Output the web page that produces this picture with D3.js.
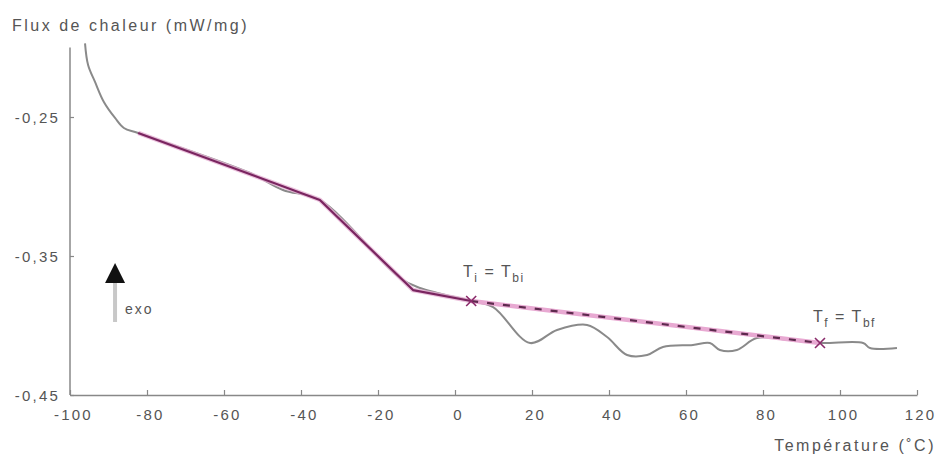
<!DOCTYPE html>
<html><head><meta charset="utf-8">
<script src="https://cdn.jsdelivr.net/npm/d3@7"></script>
<style>
body{margin:0;background:#fff;}
svg text{font-family:"Liberation Sans",Arial,Helvetica,sans-serif;fill:#555;}
</style></head>
<body><svg id="c" width="938" height="457"></svg>
<script>
// Measured DSC curve (temperature °C, heat flux mW/mg)
const temps = [-96.1,-95.3,-93.5,-91.2,-88.3,-86.0,-82.3,-53.2,-44.7,-35.1,-14.3,-9.1,4.2,9.9,19.5,26.5,34.3,39.5,44.7,49.9,54.0,61.8,66.2,68.8,73.2,78.4,86.9,94.8,106.0,107.8,114.8];
const flux  = [-0.197,-0.2126,-0.2248,-0.2392,-0.2507,-0.2579,-0.2615,-0.2903,-0.3025,-0.3097,-0.3658,-0.373,-0.3824,-0.3867,-0.4126,-0.4032,-0.3996,-0.4083,-0.4212,-0.4212,-0.4155,-0.414,-0.4126,-0.4176,-0.4176,-0.409,-0.4104,-0.4126,-0.4126,-0.4162,-0.4162];
// Fitted baseline (solid) up to Ti
const baseT = [-82.3,-35.1,-10.9,4.2];
const baseF = [-0.2615,-0.3097,-0.3745,-0.3824];
// Interpolated baseline Ti -> Tf (dashed)
const interpT = [4.2,94.8];
const interpF = [-0.3824,-0.4126];
const xTicks = [-100,-80,-60,-40,-20,0,20,40,60,80,100,120];
const yTicks = [-0.25,-0.35,-0.45];

const svg = d3.select("#c");
const x = d3.scaleLinear().domain([-100,120]).range([70,917]);
const y = d3.scaleLinear().domain([-0.45,-0.2]).range([395,47.5]);

const fmt = d => d3.format(".2f")(d).replace(".",",").replace("−","-");

// axes
const gx = svg.append("g").attr("transform",`translate(0,${y(-0.45)})`)
  .call(d3.axisBottom(x).tickValues(xTicks).tickSizeInner(-5).tickSizeOuter(0).tickPadding(14).tickFormat(d=>String(d)));
const gy = svg.append("g").attr("transform",`translate(${x(-100)},0)`)
  .call(d3.axisLeft(y).tickValues(yTicks).tickSizeInner(-4).tickSizeOuter(0).tickPadding(10).tickFormat(fmt));
[gx,gy].forEach(g=>{
  g.select(".domain").attr("stroke","#888").attr("stroke-width",1.5);
  g.selectAll(".tick line").attr("stroke","#888").attr("stroke-width",1.2);
  g.selectAll(".tick text").attr("fill","#555").style("font-size","15px").style("letter-spacing","2.2px")
   .style("font-family",'"Liberation Sans",Arial,sans-serif');
});
gx.selectAll(".tick text").attr("dx","3");
gy.selectAll(".tick text").attr("dy","0.35em");
gy.select(".domain").attr("d",`M0,${y(-0.2)}V${y(-0.45)}`);

// axis titles
svg.append("text").attr("x",12).attr("y",31).style("font-size","16px").style("letter-spacing","2.5px")
  .text("Flux de chaleur (mW/mg)");
svg.append("text").attr("x",936).attr("y",451).attr("text-anchor","end").style("font-size","16px").style("letter-spacing","2.5px")
  .text("Température (˚C)");

// gray measured curve
const lin = d3.line().x(d=>x(d[0])).y(d=>y(d[1]));
const smooth = d3.line().x(d=>x(d[0])).y(d=>y(d[1])).curve(d3.curveCatmullRom.alpha(0.5));
svg.append("path").datum(temps.map((t,i)=>[t,flux[i]]))
  .attr("d",smooth).attr("fill","none").attr("stroke","#8a8a8a").attr("stroke-width",2).attr("stroke-linejoin","round");

// solid baseline
svg.append("path").datum(baseT.map((t,i)=>[t,baseF[i]]))
  .attr("d",lin).attr("fill","none").attr("stroke","#e6b3d4").attr("stroke-width",4.5).attr("stroke-linejoin","round").attr("opacity",0.8);
svg.append("path").datum(baseT.map((t,i)=>[t,baseF[i]]))
  .attr("d",lin).attr("fill","none").attr("stroke","#7a2560").attr("stroke-width",2.2).attr("stroke-linejoin","round");

// dashed interpolated baseline
const ip = interpT.map((t,i)=>[t,interpF[i]]);
svg.append("path").datum(ip).attr("d",lin).attr("fill","none").attr("stroke","#e8a9d2").attr("stroke-width",4.5);
svg.append("path").datum(ip).attr("d",lin).attr("fill","none").attr("stroke","#5e2a4e").attr("stroke-width",2.2).attr("stroke-dasharray","7,9");

// X markers
ip.forEach(p=>{
  const cx=x(p[0]), cy=y(p[1]), s=5;
  svg.append("path").attr("d",`M${cx-s},${cy-s}L${cx+s},${cy+s}M${cx-s},${cy+s}L${cx+s},${cy-s}`)
    .attr("stroke","#8a2a6a").attr("stroke-width",1.6).attr("fill","none");
});

// labels
function tlabel(xv,yv,sub1,sub2){
  const t = svg.append("text").attr("x",x(xv)).attr("y",y(yv)).style("font-size","16px").style("letter-spacing","1.5px");
  t.append("tspan").text("T");
  t.append("tspan").attr("dy",5).style("font-size","12px").text(sub1);
  t.append("tspan").attr("dy",-5).text(" = T");
  t.append("tspan").attr("dy",5).style("font-size","12px").text(sub2);
}
tlabel(2.1,-0.365,"i","bi");
tlabel(93.0,-0.3975,"f","bf");

// exo arrow
const ax = x(-88.3);
svg.append("line").attr("x1",ax).attr("x2",ax).attr("y1",y(-0.3694)).attr("y2",y(-0.3975))
  .attr("stroke","#c8c8c8").attr("stroke-width",4);
svg.append("path").attr("d",`M${ax},${y(-0.355)}L${ax+10},${y(-0.3694)}L${ax-10},${y(-0.3694)}Z`).attr("fill","#111");
svg.append("text").attr("x",ax+10).attr("y",y(-0.3915)).style("font-size","14px").style("letter-spacing","2px").text("exo");
</script></body></html>
